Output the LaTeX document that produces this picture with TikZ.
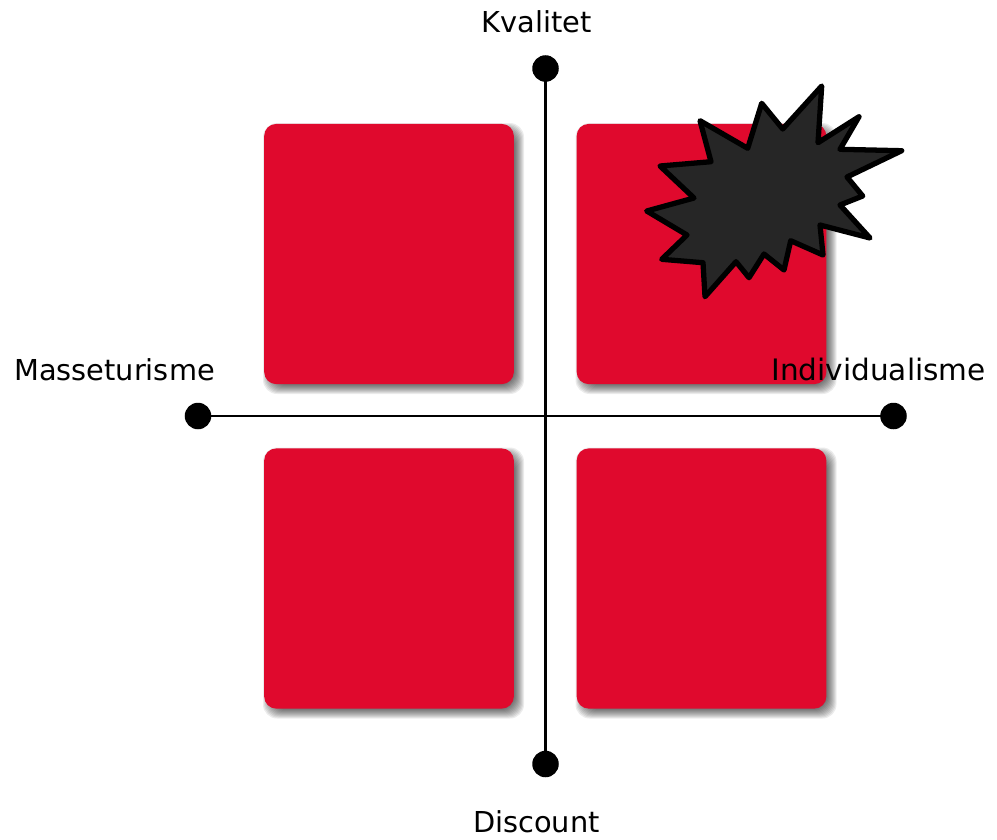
\documentclass[tikz,border=0pt]{standalone}
\usepackage{fontspec}
\setmainfont{DejaVu Sans}
\definecolor{kvadrantrod}{HTML}{E0092D}
\definecolor{stjernegra}{HTML}{262626}
\tikzset{
	kvadrant/.style={fill=kvadrantrod,rounded corners=3.4pt,minimum width=2.495cm,minimum height=2.6cm,inner sep=0pt},
	endepunkt/.style={circle,fill=black,minimum size=0.265cm,inner sep=0pt,outer sep=0pt},
	akse/.style={line width=0.8pt,shorten <=-1pt,shorten >=-1pt},
	etiket/.style={font=\fontsize{8.2}{10}\selectfont,inner sep=0pt},
}
\begin{document}
\begin{tikzpicture}[x=0.01cm,y=-0.01cm]
		
		\useasboundingbox (0,0) rectangle (997,839);
		
		% Skygger
		\foreach \x/\y in {389/254,701.5/254,389/578.5,701.5/578.5}{
			\foreach \s in {0,1,...,9}{
				\fill[black,opacity=0.075,rounded corners=4pt] (\x-125+8-\s,\y-130+8-\s) rectangle (\x+125+1+\s,\y+130+1+\s);
			}
		}
		
		% Kvadranter
		\node[kvadrant] (venstreop) at (389,254) {};
		\node[kvadrant] (hojreop) at (701.5,254) {};
		\node[kvadrant] (venstrened) at (389,578.5) {};
		\node[kvadrant] (hojrened) at (701.5,578.5) {};
		
		% Stjerne
		\draw[fill=stjernegra,line width=1.5pt,line join=round]
			(821.7,86) -- (818,142.7) -- (859,116.7) -- (840,149.3) -- (901.7,150.7)
			-- (847,177) -- (862.7,196) -- (840,205) -- (870,238) -- (820,225)
			-- (823,255) -- (790.7,240.7) -- (784,270) -- (764,254) -- (749,277.7)
			-- (736,261.7) -- (705,296.7) -- (703,262.7) -- (661.7,259.3) -- (687,235)
			-- (646.7,211) -- (694,198) -- (660,166) -- (711,161.7) -- (700,120.7)
			-- (747.7,148.3) -- (761.7,103.3) -- (782.7,129) -- cycle;
		
		% Akser
		\node[endepunkt] (vest) at (198,416) {};
		\node[endepunkt] (ost) at (893.5,416) {};
		\node[endepunkt] (nord) at (545.5,68.5) {};
		\node[endepunkt] (syd) at (545.5,764) {};
		\draw[akse] (vest) -- (ost);
		\draw[akse] (nord) -- (syd);
		
		% Etiketter
		\node[etiket] (kvalitet) at (536.5,22) {Kvalitet};
		\node[etiket] (masseturisme) at (114.5,370) {Masseturisme};
		\node[etiket,font=\fontsize{8.4}{10}\selectfont] (individualisme) at (878.5,369.5) {Individualisme};
		\node[etiket] (discount) at (536.5,822) {Discount};
		
	\end{tikzpicture}
\end{document}
